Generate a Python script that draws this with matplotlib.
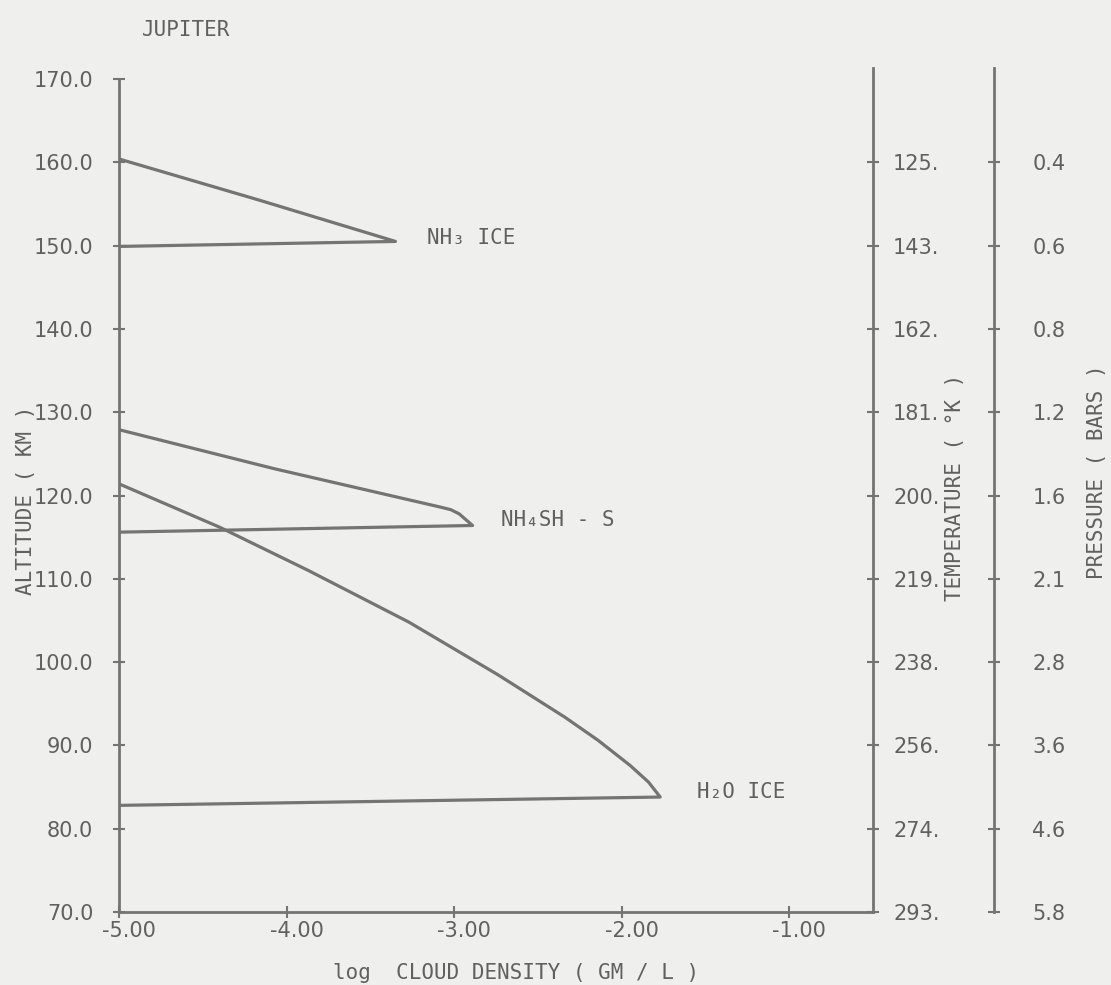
import matplotlib
matplotlib.use("Agg")
import matplotlib.pyplot as plt
import matplotlib.transforms as mtransforms

# ---------------- data ----------------
nh3_x = [-5.00, -4.17, -3.35, -5.00]
nh3_alt = [160.4, 155.5, 150.5, 149.9]

nh4sh_x = [-5.00, -4.07, -3.08, -3.02, -2.97, -2.89, -5.00]
nh4sh_alt = [127.9, 123.2, 118.6, 118.3, 117.8, 116.4, 115.6]

h2o_x = [-5.00, -4.40, -3.87, -3.27, -2.74, -2.34, -2.14, -1.95, -1.84, -1.77, -5.00]
h2o_alt = [121.4, 116.2, 111.0, 104.8, 98.5, 93.4, 90.6, 87.6, 85.6, 83.8, 82.8]

cloud_labels = ["NH\u2083 ICE", "NH\u2084SH - S", "H\u2082O ICE"]
cloud_label_x = [-3.16, -2.72, -1.55]
cloud_label_alt = [150.9, 117.0, 84.4]

x_ticks = [-5.0, -4.0, -3.0, -2.0, -1.0]
x_ticklabels = ["-5.00", "-4.00", "-3.00", "-2.00", "-1.00"]
alt_ticks = [170, 160, 150, 140, 130, 120, 110, 100, 90, 80, 70]
alt_ticklabels = ["170.0", "160.0", "150.0", "140.0", "130.0", "120.0",
                  "110.0", "100.0", "90.0", "80.0", "70.0"]
scale_alt = [160, 150, 140, 130, 120, 110, 100, 90, 80, 70]
temp_labels = ["125.", "143.", "162.", "181.", "200.", "219.", "238.", "256.", "274.", "293."]
pres_labels = ["0.4", "0.6", "0.8", "1.2", "1.6", "2.1", "2.8", "3.6", "4.6", "5.8"]

# ---------------- style ----------------
BG = "#efefed"
INK = "#606060"
LINE = "#747474"
FONT = ["DejaVu Sans", "DejaVu Sans Mono"]
MONO = ["DejaVu Sans Mono", "DejaVu Sans"]
FS = 15
plt.rcParams["font.family"] = FONT

W, H = 1111, 985
fig = plt.figure(figsize=(W / 100, H / 100), dpi=100, facecolor=BG)

def fx(px):
    return px / W

def fy(py):
    return 1 - py / H

left_px, right_px, top_px, bot_px = 119, 873, 79, 912
ax = fig.add_axes([fx(left_px), fy(bot_px), fx(right_px - left_px), (bot_px - top_px) / H])
ax.set_facecolor("none")
ax.set_xlim(-5.0, -0.5)
ax.set_ylim(70, 170)
for s in ["top", "right"]:
    ax.spines[s].set_visible(False)
for s in ["left", "bottom"]:
    ax.spines[s].set_color(LINE)
    ax.spines[s].set_linewidth(2.0)

lw = 2.3
ax.plot(nh3_x, nh3_alt, color=LINE, lw=lw)
ax.plot(nh4sh_x, nh4sh_alt, color=LINE, lw=lw)
ax.plot(h2o_x, h2o_alt, color=LINE, lw=lw)

for t, x, y in zip(cloud_labels, cloud_label_x, cloud_label_alt):
    ax.text(x, y, t, color=INK, fontsize=FS, ha="left", va="center", family=MONO)

ax.set_xticks(x_ticks)
ax.set_xticklabels(x_ticklabels)
ax.set_yticks(alt_ticks)
ax.set_yticklabels(alt_ticklabels)
ax.tick_params(axis="both", direction="inout", length=9, width=1.5, color=LINE,
               labelcolor=INK, labelsize=FS)
ax.tick_params(axis="y", pad=14)
ax.tick_params(axis="x", pad=2)
off = mtransforms.ScaledTranslation(10 / 100, 0, fig.dpi_scale_trans)
for lab in ax.get_xticklabels():
    lab.set_transform(lab.get_transform() + off)

# right scales
scale_top_px = 68
def scale_axes(xpx, labels, pad):
    a = fig.add_axes([fx(xpx) - 0.0002, fy(bot_px), 0.0002, (bot_px - scale_top_px) / H])
    a.set_facecolor("none")
    a.set_ylim(70, 70 + (bot_px - scale_top_px) / ((bot_px - top_px) / 100))
    for s in ["top", "left", "bottom"]:
        a.spines[s].set_visible(False)
    a.spines["right"].set_color(LINE)
    a.spines["right"].set_linewidth(2.0)
    a.set_xticks([])
    a.yaxis.tick_right()
    a.set_yticks(scale_alt)
    a.set_yticklabels(labels)
    a.tick_params(axis="y", direction="inout", length=9, width=1.5, color=LINE,
                  labelcolor=INK, labelsize=FS, pad=pad)
    return a

ax_t = scale_axes(873, temp_labels, 10)
ax_p = scale_axes(994, pres_labels, 23)

# titles / axis labels
fig.text(fx(142), fy(30), "JUPITER", color=INK, fontsize=FS, ha="left", va="center",
         family=MONO)
fig.text(fx(26), fy(500), "ALTITUDE ( KM )", color=INK, fontsize=FS, rotation=90,
         ha="center", va="center", family=MONO)
fig.text(fx(333), fy(973), "log  CLOUD DENSITY ( GM / L )", color=INK, fontsize=FS,
         ha="left", va="center", family=MONO)
fig.text(fx(955), fy(487), "TEMPERATURE ( \u00b0K )", color=INK, fontsize=FS, rotation=90,
         ha="center", va="center", family=MONO)
fig.text(fx(1097), fy(472), "PRESSURE ( BARS )", color=INK, fontsize=FS, rotation=90,
         ha="center", va="center", family=MONO)

fig.savefig("out.png", dpi=100, facecolor=BG)
